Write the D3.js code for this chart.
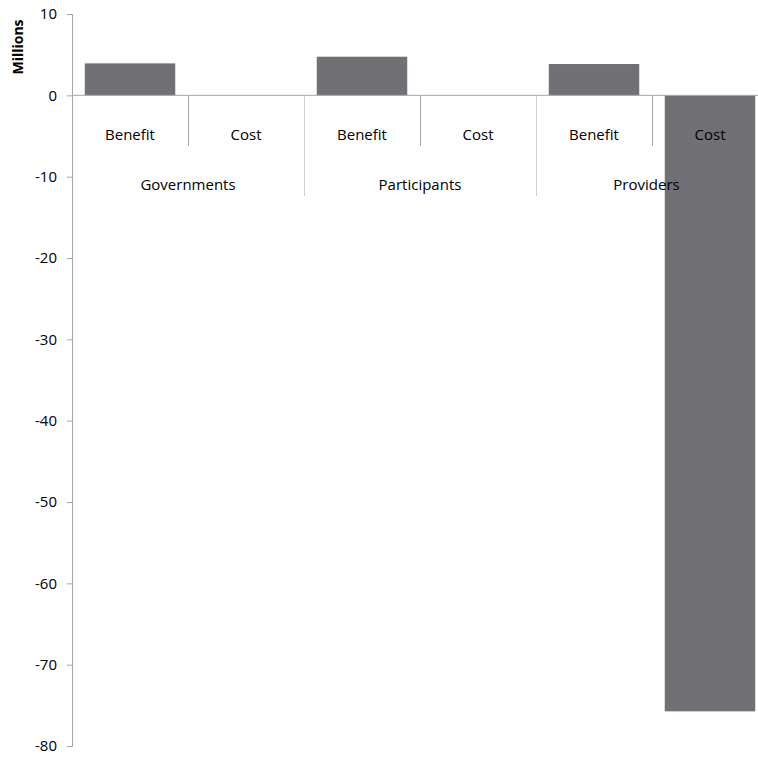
<!DOCTYPE html>
<html><head><meta charset="utf-8">
<script src="https://cdn.jsdelivr.net/npm/d3@7"></script>
<style>body{margin:0;background:#fff}svg{display:block}</style>
</head><body>
<svg id="c" width="758" height="758"></svg>
<script>
const groups = ["Governments","Participants","Providers"];
const subcats = ["Benefit","Cost"];
const values = [3.93, 0, 4.75, 0, 3.85, -75.74];
const yTicks = [10,0,-10,-20,-30,-40,-50,-60,-70,-80];

const svg = d3.select("#c");
const W = 758, H = 758;
const left = 72, catW = 116;
const keys = [];
groups.forEach(g => subcats.forEach(s => keys.push(g + "|" + s)));

const x = d3.scaleBand().domain(keys).range([left, left + catW*keys.length]).paddingInner(0.22).paddingOuter(0.11);
const y = d3.scaleLinear().domain([-80, 10]).range([746, 14]);
const font = "'Open Sans', sans-serif";
const axisCol = "#a6a6a6";
const fs = "15px";

// bars
svg.selectAll("rect.bar").data(values).join("rect")
  .attr("class","bar")
  .attr("x",(d,i)=>x(keys[i]))
  .attr("width",x.bandwidth())
  .attr("y",d=>y(Math.max(0,d)))
  .attr("height",d=>Math.abs(y(d)-y(0)))
  .attr("fill","#717075");

// y axis
const yAxis = svg.append("g").attr("transform",`translate(${left},0)`)
  .call(d3.axisLeft(y).tickValues(yTicks).tickSize(5).tickPadding(10).tickFormat(d => String(d)));
yAxis.select(".domain").attr("stroke",axisCol);
yAxis.selectAll(".tick line").attr("stroke",axisCol);
yAxis.selectAll(".tick text").attr("font-family",font).attr("font-size",fs).attr("fill","#000");

// zero line
svg.append("line").attr("x1",left).attr("x2",W).attr("y1",y(0)).attr("y2",y(0)).attr("stroke",axisCol);

// category ticks
const x0 = left;
for (let i = 1; i < keys.length; i++) {
  const xx = Math.round(x0 + i*catW) + 0.5;
  const isGroup = i % subcats.length === 0;
  svg.append("line").attr("x1",xx).attr("x2",xx).attr("y1",y(0)).attr("y2", isGroup ? 196 : 146)
    .attr("stroke", isGroup ? "#d0d0d0" : axisCol);
}

// labels
keys.forEach((k,i)=>{
  svg.append("text").attr("x", x0 + (i+0.5)*catW).attr("y",139.5)
    .attr("text-anchor","middle").attr("font-family",font).attr("font-size",fs).attr("fill","#000")
    .text(k.split("|")[1]);
});
groups.forEach((g,i)=>{
  const gs = x0 + i*catW*subcats.length;
  const ge = Math.min(gs + catW*subcats.length, W - 1);
  svg.append("text").attr("x", (gs+ge)/2).attr("y",189.5)
    .attr("text-anchor","middle").attr("font-family",font).attr("font-size",fs).attr("fill","#000")
    .text(g);
});

// axis title
svg.append("text").attr("transform","translate(23,47) rotate(-90)")
  .attr("text-anchor","middle").attr("font-family",font).attr("font-weight","bold").attr("font-size","14px").attr("fill","#000")
  .text("Millions");
</script>
</body></html>
